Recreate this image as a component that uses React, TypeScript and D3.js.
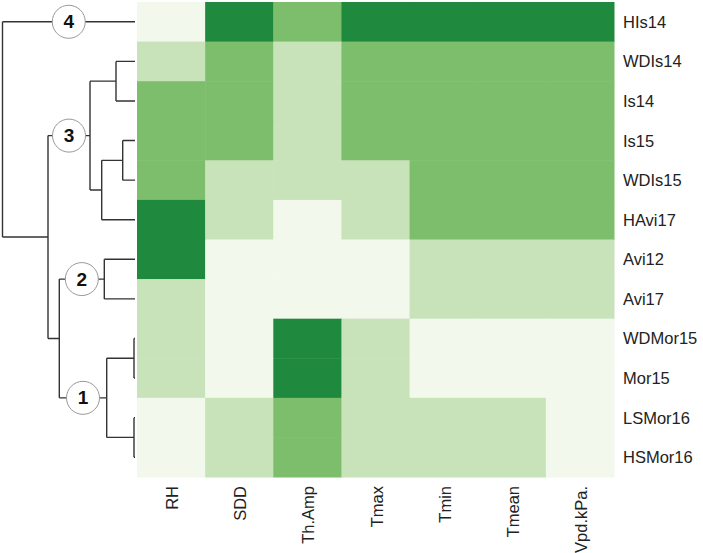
import React from "react";
import * as d3 from "d3";

const columns = ["RH", "SDD", "Th.Amp", "Tmax", "Tmin", "Tmean", "Vpd.kPa."];
const rows = ["HIs14", "WDIs14", "Is14", "Is15", "WDIs15", "HAvi17", "Avi12", "Avi17", "WDMor15", "Mor15", "LSMor16", "HSMor16"];
// class level per cell (0 = lowest, 3 = highest)
const HIs14 = [0, 3, 2, 3, 3, 3, 3];
const WDIs14 = [1, 2, 1, 2, 2, 2, 2];
const Is14 = [2, 2, 1, 2, 2, 2, 2];
const Is15 = [2, 2, 1, 2, 2, 2, 2];
const WDIs15 = [2, 1, 1, 1, 2, 2, 2];
const HAvi17 = [3, 1, 0, 1, 2, 2, 2];
const Avi12 = [3, 0, 0, 0, 1, 1, 1];
const Avi17 = [1, 0, 0, 0, 1, 1, 1];
const WDMor15 = [1, 0, 3, 1, 0, 0, 0];
const Mor15 = [1, 0, 3, 1, 0, 0, 0];
const LSMor16 = [0, 1, 2, 1, 1, 1, 0];
const HSMor16 = [0, 1, 2, 1, 1, 1, 0];
const matrix = [HIs14, WDIs14, Is14, Is15, WDIs15, HAvi17, Avi12, Avi17, WDMor15, Mor15, LSMor16, HSMor16];
const palette = ["#f3f8ed", "#c8e2b9", "#7dbe6c", "#1f8a3e"];

type Node = { h?: number; name?: string; tag?: string; children?: Node[] };
const dendro: Node = {
  h: 132.5,
  children: [
    { name: "HIs14", tag: "4" },
    {
      h: 87,
      children: [
        {
          h: 45,
          tag: "3",
          children: [
            { h: 19, children: [{ name: "WDIs14" }, { name: "Is14" }] },
            { h: 33.3, children: [{ h: 12.3, children: [{ name: "Is15" }, { name: "WDIs15" }] }, { name: "HAvi17" }] },
          ],
        },
        {
          h: 75.7,
          children: [
            { h: 30.7, tag: "2", children: [{ name: "Avi12" }, { name: "Avi17" }] },
            {
              h: 28.3,
              tag: "1",
              children: [
                { h: 1, children: [{ name: "WDMor15" }, { name: "Mor15" }] },
                { h: 1, children: [{ name: "LSMor16" }, { name: "HSMor16" }] },
              ],
            },
          ],
        },
      ],
    },
  ],
};

export default function App() {
  const W = 703, H = 553;
  const x = d3.scaleBand().domain(columns).range([137, 614]);
  const y = d3.scaleBand().domain(rows).range([2, 477]);
  const hx = d3.scaleLinear().domain([0, 132.5]).range([135, 2.5]);

  const lines: string[] = [];
  const circles: { cx: number; cy: number; t: string }[] = [];
  const layout = (n: Node): { px: number; py: number } => {
    if (!n.children) {
      return { px: hx(0), py: (y(n.name!) as number) + y.bandwidth() / 2 };
    }
    const kids = n.children.map((c) => ({ c, p: layout(c) }));
    const nx = hx(n.h!);
    const ys = kids.map((k) => k.p.py);
    const ny = (d3.min(ys)! + d3.max(ys)!) / 2;
    lines.push(`M${nx},${d3.min(ys)}V${d3.max(ys)}`);
    kids.forEach((k) => {
      lines.push(`M${nx},${k.p.py}H${k.p.px}`);
      if (k.c.tag) circles.push({ cx: (nx + k.p.px) / 2, cy: k.p.py, t: k.c.tag });
    });
    return { px: nx, py: ny };
  };
  layout(dendro);

  return (
    <svg width={W} height={H} style={{ position: "absolute", left: 0, top: 0, background: "#fff" }}>
      {rows.map((r, i) =>
        columns.map((c, j) => (
          <rect key={r + c} x={x(c)} y={y(r)} width={x.bandwidth() + 0.5} height={y.bandwidth() + 0.5} fill={palette[matrix[i][j]]} />
        ))
      )}
      <path d={lines.join("")} stroke="#333" strokeWidth={1.4} fill="none" />
      {circles.map((c) => (
        <g key={c.t}>
          <circle cx={c.cx} cy={c.cy} r={16.5} fill="#fff" stroke="#999" strokeWidth={1} />
          <text x={c.cx} y={c.cy} textAnchor="middle" dominantBaseline="central" fontFamily="Liberation Sans, Arial, sans-serif" fontWeight="bold" fontSize={19} fill="#111">
            {c.t}
          </text>
        </g>
      ))}
      {rows.map((r) => (
        <text key={r} x={623} y={(y(r) as number) + y.bandwidth() / 2} dominantBaseline="central" fontFamily="Liberation Sans, Arial, sans-serif" fontSize={16.5} fill="#222">
          {r}
        </text>
      ))}
      {columns.map((c) => {
        const cx = (x(c) as number) + x.bandwidth() / 2 + 1;
        return (
          <text key={c} transform={`translate(${cx},486) rotate(-90)`} textAnchor="end" dominantBaseline="central" fontFamily="Liberation Sans, Arial, sans-serif" fontSize={16.5} fill="#222">
            {c}
          </text>
        );
      })}
    </svg>
  );
}
